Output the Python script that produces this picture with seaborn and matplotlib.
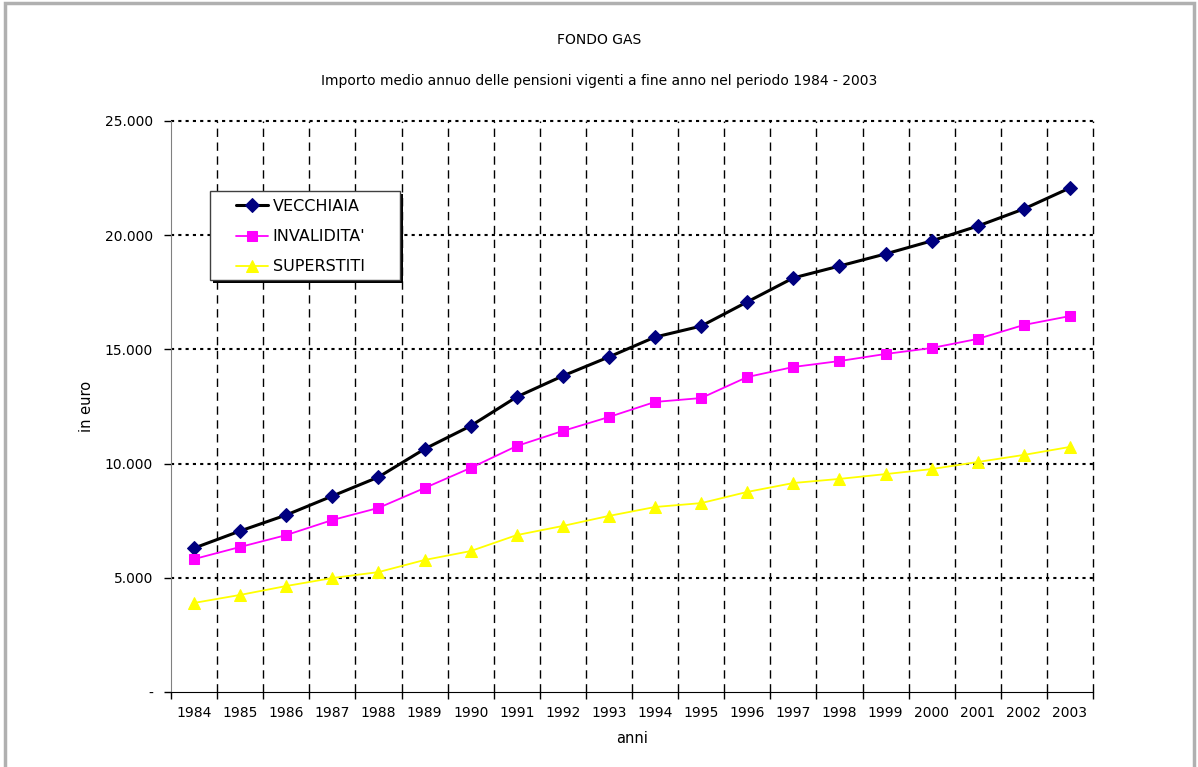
import numpy as np
import pandas as pd
import matplotlib
matplotlib.use("Agg")
import matplotlib.pyplot as plt
import seaborn as sns
from matplotlib.patches import Rectangle
from matplotlib.ticker import FixedLocator, FuncFormatter

years = [str(y) for y in range(1984, 2004)]
vecchiaia = [6300, 7050, 7750, 8580, 9410, 10640, 11650, 12920, 13840, 14670,
             15540, 16020, 17080, 18130, 18650, 19180, 19750, 20400, 21150, 22070]
invalidita = [5820, 6350, 6870, 7530, 8060, 8930, 9810, 10770, 11430, 12040,
              12700, 12870, 13790, 14230, 14490, 14800, 15060, 15460, 16070, 16460]
superstiti = [3900, 4250, 4640, 4990, 5250, 5780, 6170, 6870, 7270, 7710,
              8100, 8270, 8760, 9150, 9330, 9540, 9760, 10070, 10380, 10730]
y_ticks = [0, 5000, 10000, 15000, 20000, 25000]

W, H = 1198, 767


def fmt_euro(v, pos):
    if v == 0:
        return "-"
    return f"{int(v):,}".replace(",", ".")


def main():
    sns.set_style("white")
    plt.rcParams['font.family'] = ['DejaVu Sans']
    plt.rcParams['text.color'] = 'black'
    plt.rcParams['axes.labelcolor'] = 'black'
    plt.rcParams['xtick.color'] = 'black'
    plt.rcParams['ytick.color'] = 'black'

    df = pd.DataFrame({'pos': np.arange(len(years)), 'VECCHIAIA': vecchiaia,
                       'INVALIDITA\'': invalidita, 'SUPERSTITI': superstiti})

    fig = plt.figure(figsize=(W / 100, H / 100), dpi=100)
    ax = fig.add_axes([171 / W, 1 - 692 / H, (1093 - 171) / W, (692 - 121) / H])

    sns.lineplot(data=df, x='pos', y='VECCHIAIA', ax=ax, color='black', linewidth=2.2,
                 marker='D', markersize=7, markerfacecolor='#000080',
                 markeredgecolor='#000080', label='VECCHIAIA')
    sns.lineplot(data=df, x='pos', y="INVALIDITA'", ax=ax, color='#ff00ff', linewidth=1.3,
                 marker='s', markersize=7, markerfacecolor='#ff00ff',
                 markeredgecolor='#ff00ff', label="INVALIDITA'")
    sns.lineplot(data=df, x='pos', y='SUPERSTITI', ax=ax, color='#ffff00', linewidth=1.3,
                 marker='^', markersize=8, markerfacecolor='#ffff00',
                 markeredgecolor='#ffff00', label='SUPERSTITI')

    ax.set_xlim(-0.5, len(years) - 0.5)
    ax.set_ylim(0, 25000)

    # category boundaries carry ticks + dashed grid, labels sit in the middle
    ax.xaxis.set_major_locator(FixedLocator(np.arange(-0.5, len(years))))
    ax.xaxis.set_major_formatter(FuncFormatter(lambda v, p: ""))
    ax.xaxis.set_minor_locator(FixedLocator(np.arange(len(years))))
    ax.set_xticklabels(years, minor=True)
    ax.tick_params(axis='x', which='major', direction='out', length=5, width=1, bottom=True)
    ax.tick_params(axis='x', which='minor', length=0, pad=10, labelsize=10)
    ax.set_yticks(y_ticks)
    ax.yaxis.set_major_formatter(FuncFormatter(fmt_euro))
    ax.tick_params(axis='y', direction='out', length=5, width=1, left=True, labelsize=10, pad=8)

    ax.grid(False)
    for xv in np.arange(0.5, len(years)):
        ax.axvline(xv, color='black', linestyle=(0, (6, 4)), linewidth=1, zorder=0, clip_on=False)
    for yv in y_ticks[1:]:
        ax.axhline(yv, color='black', linestyle=(0, (1.5, 2)), linewidth=1.5, zorder=0, clip_on=False)

    for s in ['top', 'right']:
        ax.spines[s].set_visible(False)
    ax.spines['left'].set_color('#808080')
    ax.spines['bottom'].set_color('black')

    ax.set_xlabel('anni', fontsize=10.5, labelpad=8)
    ax.set_ylabel('in euro', fontsize=10.5, labelpad=8)

    fig.text(0.5, 1 - 40 / H, 'FONDO GAS', ha='center', va='center', fontsize=10)
    fig.text(0.5, 1 - 81 / H,
             'Importo medio annuo delle pensioni vigenti a fine anno nel periodo 1984 - 2003',
             ha='center', va='center', fontsize=10)

    # legend box with a hard shadow, drawn by hand to get Excel's width
    ax.add_patch(Rectangle((213 / W, 1 - 283 / H), 190 / W, 89 / H, transform=fig.transFigure,
                           facecolor='black', edgecolor='none', zorder=4.4, clip_on=False))
    ax.add_patch(Rectangle((210 / W, 1 - 280 / H), 190 / W, 89 / H, transform=fig.transFigure,
                           facecolor='white', edgecolor='#404040', linewidth=1, zorder=4.5,
                           clip_on=False))
    ax.legend(loc='upper left', bbox_to_anchor=(236 / W, 1 - 199 / H),
              bbox_transform=fig.transFigure, frameon=False, fontsize=11.5,
              handlelength=2.0, handletextpad=0.3, borderpad=0, labelspacing=0.95,
              borderaxespad=0)

    fig.patches.append(Rectangle((0.004, -0.01), 0.993, 1.006, transform=fig.transFigure,
                                 fill=False, edgecolor='#b0b0b0', linewidth=2.5))

    fig.savefig('out.png', dpi=100)


if __name__ == "__main__":
    main()
